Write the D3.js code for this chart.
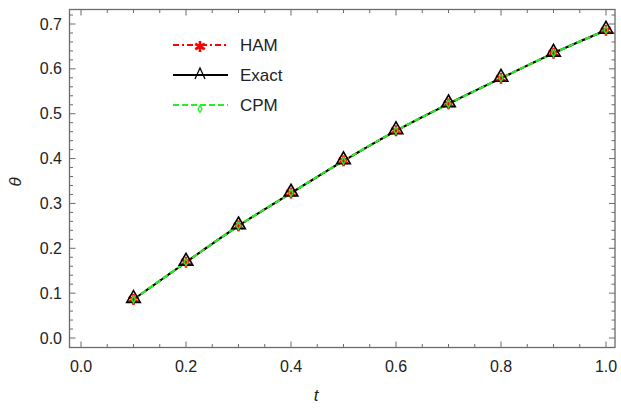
<!DOCTYPE html>
<html><head><meta charset="utf-8">
<script src="https://cdn.jsdelivr.net/npm/d3@7"></script>
<style>body{margin:0;background:#fff}svg{display:block}text{font-family:"Liberation Sans",Arial,sans-serif}</style>
</head><body>
<script>
const tValues = [0.1,0.2,0.3,0.4,0.5,0.6,0.7,0.8,0.9,1.0];
const hamValues = [0.086,0.169,0.250,0.323,0.395,0.462,0.522,0.579,0.635,0.686];
const exactValues = [0.086,0.169,0.250,0.323,0.395,0.462,0.522,0.579,0.635,0.686];
const cpmValues = [0.086,0.169,0.250,0.323,0.395,0.462,0.522,0.579,0.635,0.686];
const seriesNames = ["HAM","Exact","CPM"];
const xTicks = [0,0.2,0.4,0.6,0.8,1.0];
const yTicks = [0,0.1,0.2,0.3,0.4,0.5,0.6,0.7];

const W=621,H=408;
const svg=d3.select("body").append("svg").attr("width",W).attr("height",H);
const pL=69.5,pR=615,pT=9.5,pB=347.5;
const x=d3.scaleLinear().domain([0,1]).range([81,606]);
const y=d3.scaleLinear().domain([0,0.7]).range([338,24]);
const frameColor="#6b6b6b";

const g=svg.append("g");
function tickLines(vals,len,axisSide){
  vals.forEach(v=>{
    if(axisSide==="x"){
      const px=x(v);
      g.append("line").attr("x1",px).attr("x2",px).attr("y1",pB).attr("y2",pB-len).attr("stroke",frameColor).attr("stroke-width",1);
      g.append("line").attr("x1",px).attr("x2",px).attr("y1",pT).attr("y2",pT+len).attr("stroke",frameColor).attr("stroke-width",1);
    } else {
      const py=y(v);
      g.append("line").attr("y1",py).attr("y2",py).attr("x1",pL).attr("x2",pL+len).attr("stroke",frameColor).attr("stroke-width",1);
      g.append("line").attr("y1",py).attr("y2",py).attr("x1",pR).attr("x2",pR-len).attr("stroke",frameColor).attr("stroke-width",1);
    }
  });
}
const xMinor=d3.range(0,1.0001,0.05).filter(v=>!xTicks.some(t=>Math.abs(t-v)<1e-6));
const yMinor=d3.range(0,0.7301,0.02).filter(v=>!yTicks.some(t=>Math.abs(t-v)<1e-6));
tickLines(xTicks,6,"x");tickLines(xMinor,3.5,"x");
tickLines(yTicks,6,"y");tickLines(yMinor,3.5,"y");

svg.append("rect").attr("x",pL).attr("y",pT).attr("width",pR-pL).attr("height",pB-pT)
  .attr("fill","none").attr("stroke",frameColor).attr("stroke-width",1.3);

xTicks.forEach(v=>svg.append("text").attr("x",x(v)).attr("y",372).attr("text-anchor","middle")
  .attr("font-size",16).attr("fill","#222").text(d3.format(".1f")(v)));
yTicks.forEach(v=>svg.append("text").attr("x",62).attr("y",y(v)+5.5).attr("text-anchor","end")
  .attr("font-size",16).attr("fill","#222").text(d3.format(".1f")(v)));

svg.append("text").attr("x",316).attr("y",401).attr("text-anchor","middle").attr("font-size",17)
  .attr("font-style","italic").attr("fill","#222").text("t");
svg.append("text").attr("transform","translate(21,182) rotate(-90)").attr("text-anchor","middle")
  .attr("font-size",17).attr("font-style","italic").attr("fill","#222").text("θ");

const line=d3.line().x(d=>x(d[0])).y(d=>y(d[1])).curve(d3.curveMonotoneX);
const ham=tValues.map((t,i)=>[t,hamValues[i]]);
const exact=tValues.map((t,i)=>[t,exactValues[i]]);
const cpm=tValues.map((t,i)=>[t,cpmValues[i]]);
const green="#22f022";

svg.append("path").attr("d",line(ham)).attr("fill","none").attr("stroke","#ff0000").attr("stroke-width",2).attr("stroke-dasharray","6,3,2,3");
svg.append("path").attr("d",line(exact)).attr("fill","none").attr("stroke","#000").attr("stroke-width",2);
svg.append("path").attr("d",line(cpm)).attr("fill","none").attr("stroke",green).attr("stroke-width",2.2).attr("stroke-dasharray","6,3");

const tri=d3.symbol().type(d3.symbolTriangle).size(80);
function asterisk(sel,cx,cy,r){
  for(let k=0;k<3;k++){
    const a=Math.PI/2+k*Math.PI/3;
    sel.append("line").attr("x1",cx-r*Math.cos(a)).attr("y1",cy-r*Math.sin(a)).attr("x2",cx+r*Math.cos(a)).attr("y2",cy+r*Math.sin(a))
      .attr("stroke","#ff0000").attr("stroke-width",2.6);
  }
}
function drawTri(sel,cx,cy){
  sel.append("path").attr("d",tri()).attr("transform",`translate(${cx},${cy-1})`).attr("fill","none").attr("stroke","#000").attr("stroke-width",1.6);
}
function drawDiamond(sel,cx,cy){
  sel.append("path").attr("d",d3.symbol().type(d3.symbolDiamond).size(14)()).attr("transform",`translate(${cx},${cy})`)
    .attr("fill","none").attr("stroke",green).attr("stroke-width",1.3);
}
const mk=svg.append("g");
ham.forEach(d=>asterisk(mk,x(d[0]),y(d[1]),5.5));
exact.forEach(d=>drawTri(mk,x(d[0]),y(d[1])));
cpm.forEach(d=>drawDiamond(mk,x(d[0]),y(d[1])));

const lg=svg.append("g");
const legY=[45,75,105];
const lx1=173,lx2=228;
lg.append("line").attr("x1",lx1).attr("x2",lx2).attr("y1",legY[0]).attr("y2",legY[0]).attr("stroke","#ff0000").attr("stroke-width",2).attr("stroke-dasharray","6,3,2,3");
asterisk(lg,200,legY[0]+1.5,5.5);
lg.append("line").attr("x1",lx1).attr("x2",lx2).attr("y1",legY[1]).attr("y2",legY[1]).attr("stroke","#000").attr("stroke-width",2);
lg.append("path").attr("d",`M${195},${legY[1]+4}L${200},${legY[1]-7}L${205},${legY[1]+4}`).attr("fill","none").attr("stroke","#000").attr("stroke-width",1.3);
lg.append("line").attr("x1",lx1).attr("x2",lx2).attr("y1",legY[2]).attr("y2",legY[2]).attr("stroke",green).attr("stroke-width",2).attr("stroke-dasharray","6,3");
drawDiamond(lg,200,legY[2]+4);
seriesNames.forEach((n,i)=>lg.append("text").attr("x",240).attr("y",legY[i]+6).attr("font-size",17).attr("fill","#222").text(n));
</script>
</body></html>
